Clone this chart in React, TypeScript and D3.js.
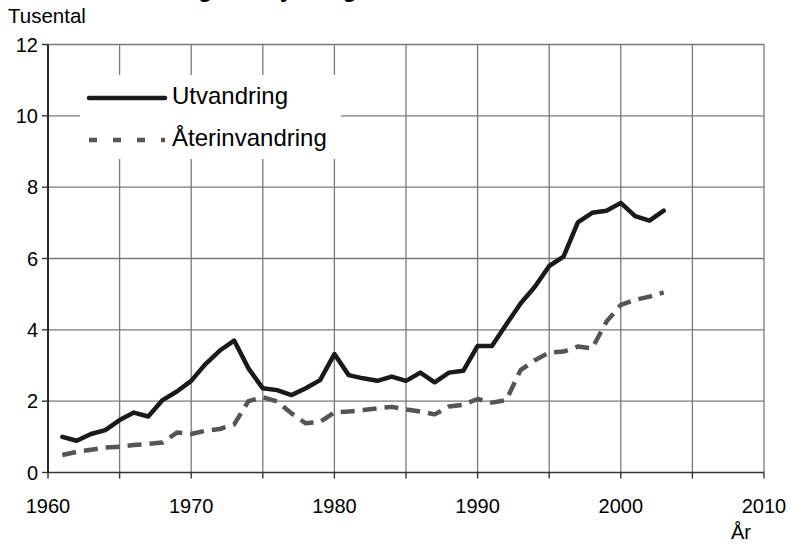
import React from 'react';
import * as d3 from 'd3';

const years = [1961, 1962, 1963, 1964, 1965, 1966, 1967, 1968, 1969, 1970, 1971, 1972, 1973, 1974, 1975, 1976, 1977, 1978, 1979, 1980, 1981, 1982, 1983, 1984, 1985, 1986, 1987, 1988, 1989, 1990, 1991, 1992, 1993, 1994, 1995, 1996, 1997, 1998, 1999, 2000, 2001, 2002, 2003];
const utvandring = [1.00, 0.89, 1.08, 1.19, 1.47, 1.68, 1.57, 2.03, 2.27, 2.57, 3.04, 3.42, 3.70, 2.92, 2.36, 2.31, 2.17, 2.36, 2.59, 3.32, 2.73, 2.64, 2.57, 2.69, 2.57, 2.80, 2.53, 2.80, 2.85, 3.55, 3.55, 4.15, 4.74, 5.21, 5.79, 6.05, 7.01, 7.28, 7.34, 7.56, 7.19, 7.06, 7.34];
const aterinvandring = [0.49, 0.58, 0.64, 0.70, 0.72, 0.77, 0.80, 0.84, 1.12, 1.08, 1.17, 1.22, 1.35, 2.00, 2.11, 1.99, 1.66, 1.38, 1.42, 1.68, 1.71, 1.75, 1.80, 1.84, 1.77, 1.71, 1.63, 1.85, 1.90, 2.06, 1.96, 2.03, 2.87, 3.15, 3.36, 3.39, 3.53, 3.48, 4.23, 4.70, 4.84, 4.93, 5.05];
const xTickLabels = [1960, 1970, 1980, 1990, 2000, 2010];
const xGridYears = [1960, 1965, 1970, 1975, 1980, 1985, 1990, 1995, 2000, 2005, 2010];
const yTicks = [0, 2, 4, 6, 8, 10, 12];
const seriesNames = ['Utvandring', 'Återinvandring'];
const titleText = 'Utvandring och flyttning';
const yUnit = 'Tusental';
const xUnit = 'År';

const W = 791;
const H = 544;
const FONT = '"Liberation Sans", Arial, Helvetica, sans-serif';

export default function App() {
  const x = d3.scaleLinear().domain([1960, 2010]).range([48, 764]);
  const y = d3.scaleLinear().domain([0, 12]).range([472.5, 44.5]);

  const line = d3
    .line<number>()
    .x((_, i) => x(years[i]))
    .y((d) => y(d));

  const gridColor = '#7a7a7a';

  return (
    <div style={{ position: 'absolute', left: 0, top: 0 }}>
      <svg width={W} height={H} style={{ display: 'block', background: '#fff' }} fontFamily={FONT}>
        <rect x={0} y={0} width={W} height={H} fill="#fff" />
        {/* clipped title */}
        <text x={91} y={-3} fontSize={23} fontWeight="bold" fill="#000">
          {titleText}
        </text>
        {/* grid */}
        {xGridYears.slice(1).map((yr) => (
          <line key={'gx' + yr} x1={x(yr)} x2={x(yr)} y1={y(12)} y2={y(0)} stroke={gridColor} strokeWidth={1.3} />
        ))}
        {yTicks.slice(1).map((v) => (
          <line key={'gy' + v} x1={x(1960)} x2={x(2010)} y1={y(v)} y2={y(v)} stroke={gridColor} strokeWidth={1.3} />
        ))}
        {/* legend background */}
        <rect x={80} y={75} width={261} height={84} fill="#fff" />
        {/* axes */}
        <line x1={x(1960)} x2={x(1960)} y1={y(12)} y2={y(0)} stroke="#111" strokeWidth={1.8} />
        <line x1={x(1960)} x2={x(2010)} y1={y(0)} y2={y(0)} stroke="#333" strokeWidth={1.4} />
        {yTicks.map((v) => (
          <g key={'yt' + v}>
            <line x1={x(1960) - 6} x2={x(1960)} y1={y(v)} y2={y(v)} stroke="#333" strokeWidth={1.4} />
            <text x={38} y={y(v) + 7} fontSize={20} textAnchor="end" fill="#000">
              {v}
            </text>
          </g>
        ))}
        {xGridYears.map((yr) => (
          <line key={'xt' + yr} x1={x(yr)} x2={x(yr)} y1={y(0)} y2={y(0) + 6} stroke="#333" strokeWidth={1.4} />
        ))}
        {xTickLabels.map((yr) => (
          <text key={'xl' + yr} x={x(yr)} y={513} fontSize={20} textAnchor="middle" fill="#000">
            {yr}
          </text>
        ))}
        <text x={8} y={22.5} fontSize={20.5} fill="#000">
          {yUnit}
        </text>
        <text x={741} y={539} fontSize={20} textAnchor="middle" fill="#000">
          {xUnit}
        </text>
        {/* series */}
        <path d={line(aterinvandring) || ''} fill="none" stroke="#555" strokeWidth={4.5} strokeDasharray="14,8" strokeLinejoin="round" />
        <path d={line(utvandring) || ''} fill="none" stroke="#1a1a1a" strokeWidth={4.5} strokeLinejoin="round" strokeLinecap="round" />
        {/* legend */}
        <line x1={89} x2={165} y1={98} y2={98} stroke="#1a1a1a" strokeWidth={4.5} strokeLinecap="round" />
        <text x={172} y={104} fontSize={24} fill="#000">
          {seriesNames[0]}
        </text>
        <line x1={89} x2={165} y1={140} y2={140} stroke="#555" strokeWidth={4.5} strokeDasharray="8,16" />
        <text x={172} y={146} fontSize={24} fill="#000">
          {seriesNames[1]}
        </text>
      </svg>
    </div>
  );
}
